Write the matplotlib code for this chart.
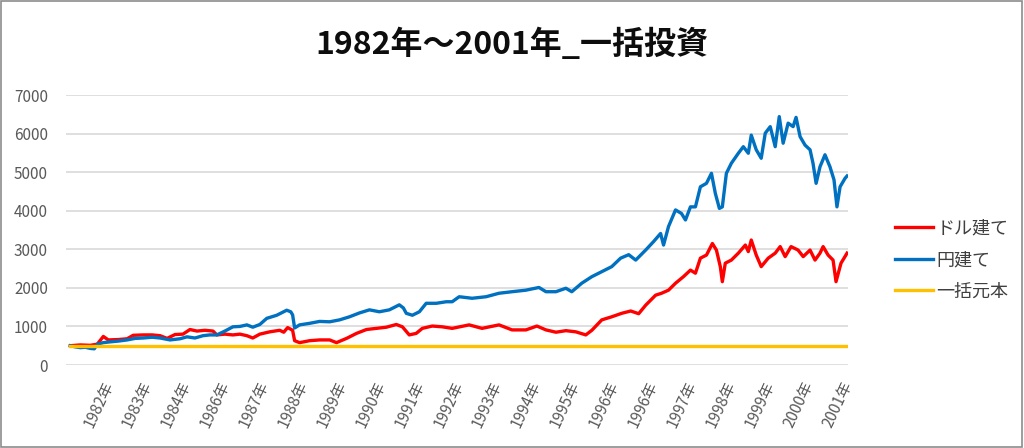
import matplotlib
matplotlib.use("Agg")
import matplotlib.pyplot as plt
from matplotlib.patches import Rectangle

plt.rcParams['font.family'] = ['Noto Sans CJK JP', 'DejaVu Sans']

# 営業日インデックス（約5000日）と評価額
n_days = 5000

days_red = [0, 64, 128, 173, 212, 244, 308, 365, 404, 468, 526, 577, 622, 673, 724,
            769, 814, 865, 917, 942, 994, 1045, 1090, 1135, 1173, 1218, 1282, 1346,
            1372, 1397, 1429, 1442, 1474, 1538, 1603, 1667, 1711, 1776, 1840, 1904,
            1968, 2032, 2096, 2135, 2179, 2224, 2263, 2327, 2391, 2455, 2564, 2647,
            2756, 2840, 2929, 3000, 3058, 3122, 3186, 3250, 3314, 3353, 3417, 3481,
            3545, 3603, 3654, 3699, 3763, 3801, 3846, 3891, 3942, 3987, 4019, 4051,
            4090, 4128, 4154, 4179, 4192, 4211, 4250, 4295, 4340, 4359, 4378, 4410,
            4442, 4487, 4532, 4564, 4596, 4634, 4679, 4712, 4756, 4788, 4820, 4840,
            4872, 4904, 4923, 4955, 4994]
dollar = [500, 520, 510, 540, 740, 650, 660, 680, 770, 780, 780, 760, 690, 790, 800,
          920, 880, 900, 880, 780, 800, 780, 800, 760, 700, 800, 860, 900,
          850, 970, 900, 630, 580, 630, 650, 650, 580, 690, 820, 920,
          950, 980, 1050, 990, 780, 820, 950, 1010, 990, 950, 1040, 950,
          1040, 910, 910, 1010, 910, 850, 890, 860, 780, 900, 1170, 1250,
          1340, 1400, 1330, 1550, 1810, 1860, 1940, 2120, 2290, 2460, 2380, 2770,
          2850, 3150, 2980, 2550, 2160, 2640, 2720, 2900, 3110, 2940, 3240, 2850,
          2550, 2770, 2900, 3070, 2810, 3070, 2980, 2810, 2980, 2720, 2900, 3070,
          2850, 2720, 2160, 2640, 2900]

days_blue = [0, 32, 64, 96, 128, 154, 173, 212, 256, 308, 365, 417, 468, 526, 577,
             641, 705, 750, 801, 853, 897, 942, 994, 1045, 1090, 1135, 1173, 1218,
             1263, 1327, 1391, 1417, 1429, 1442, 1474, 1538, 1603, 1667, 1731, 1795,
             1859, 1923, 1987, 2051, 2115, 2141, 2160, 2199, 2244, 2288, 2353, 2417,
             2455, 2500, 2583, 2673, 2756, 2840, 2929, 3013, 3058, 3122, 3186, 3224,
             3288, 3353, 3417, 3481, 3538, 3590, 3635, 3699, 3750, 3795, 3814, 3846,
             3891, 3929, 3955, 3987, 4019, 4051, 4090, 4122, 4147, 4173, 4192, 4218,
             4250, 4295, 4327, 4359, 4378, 4410, 4442, 4468, 4500, 4532, 4558, 4583,
             4615, 4647, 4666, 4692, 4724, 4756, 4775, 4795, 4820, 4852, 4884, 4910,
             4929, 4949, 4981, 4994]
yen = [500, 470, 450, 460, 430, 420, 540, 580, 600, 620, 650, 690, 700, 720, 700,
       650, 680, 730, 700, 760, 780, 780, 880, 990, 1000, 1040, 980, 1050,
       1210, 1290, 1420, 1380, 1300, 960, 1040, 1080, 1130, 1120, 1170, 1250,
       1350, 1430, 1380, 1430, 1560, 1480, 1340, 1290, 1380, 1600, 1600, 1640,
       1640, 1770, 1730, 1770, 1860, 1900, 1940, 2010, 1900, 1900, 1990, 1900,
       2120, 2290, 2420, 2550, 2770, 2860, 2720, 2980, 3200, 3410, 3110, 3590,
       4020, 3930, 3760, 4100, 4100, 4620, 4710, 4970, 4450, 4060, 4100, 4970,
       5230, 5490, 5660, 5490, 5960, 5580, 5360, 6010, 6180, 5660, 6440, 5750,
       6270, 6180, 6420, 5920, 5700, 5580, 5230, 4710, 5140, 5450, 5140, 4800,
       4100, 4620, 4840, 4900]

principal = 500

x_labels = ["1982年", "1983年", "1984年", "1986年", "1987年", "1988年", "1989年",
            "1990年", "1991年", "1992年", "1993年", "1994年", "1995年", "1996年",
            "1996年", "1997年", "1998年", "1999年", "2000年", "2001年"]

fig = plt.figure(figsize=(10.24, 4.48), dpi=100)
ax = fig.add_axes([66 / 1024, 83 / 448, 782 / 1024, 270 / 448])

ax.plot(days_red, dollar, color='#FF0000', lw=2.4, label='ドル建て')
ax.plot(days_blue, yen, color='#0070C0', lw=2.4, label='円建て')
ax.plot([days_blue[0], days_blue[-1]], [principal, principal], color='#FFC000', lw=2.4,
        label='一括元本')

ax.set_ylim(0, 7000)
ax.set_xlim(-28, n_days)
ax.set_yticks(range(0, 7001, 1000))
step = n_days // len(x_labels)
ax.set_xticks([step * (i + 1) - 1 for i in range(len(x_labels))])
ax.set_xticklabels(x_labels, rotation=65, ha='right', va='center', rotation_mode='anchor')
ax.tick_params(axis='both', length=0, colors='#595959', labelsize=11)
ax.tick_params(axis='y', pad=13)
ax.tick_params(axis='x', pad=12)
ax.grid(axis='y', color='#D9D9D9', lw=1.2)
ax.set_axisbelow(True)
for s in ax.spines.values():
    s.set_visible(False)

leg = fig.legend(loc='center left', bbox_to_anchor=(886 / 1024, 1 - 260 / 448), frameon=False,
                 fontsize=13, handlelength=2.1, handletextpad=0.2, labelspacing=0.75,
                 borderpad=0)
for t in leg.get_texts():
    t.set_color('#404040')

fig.text(0.5, 1 - 45 / 448, '1982年～2001年_一括投資', ha='center', va='center',
         fontsize=23, fontweight='bold', color='#0D0D0D')

fig.patches.append(Rectangle((0.001, 0.002), 0.997, 0.995, transform=fig.transFigure,
                             fill=False, edgecolor='#8C8C8C', lw=1.2))

fig.savefig('out.png', dpi=100)
